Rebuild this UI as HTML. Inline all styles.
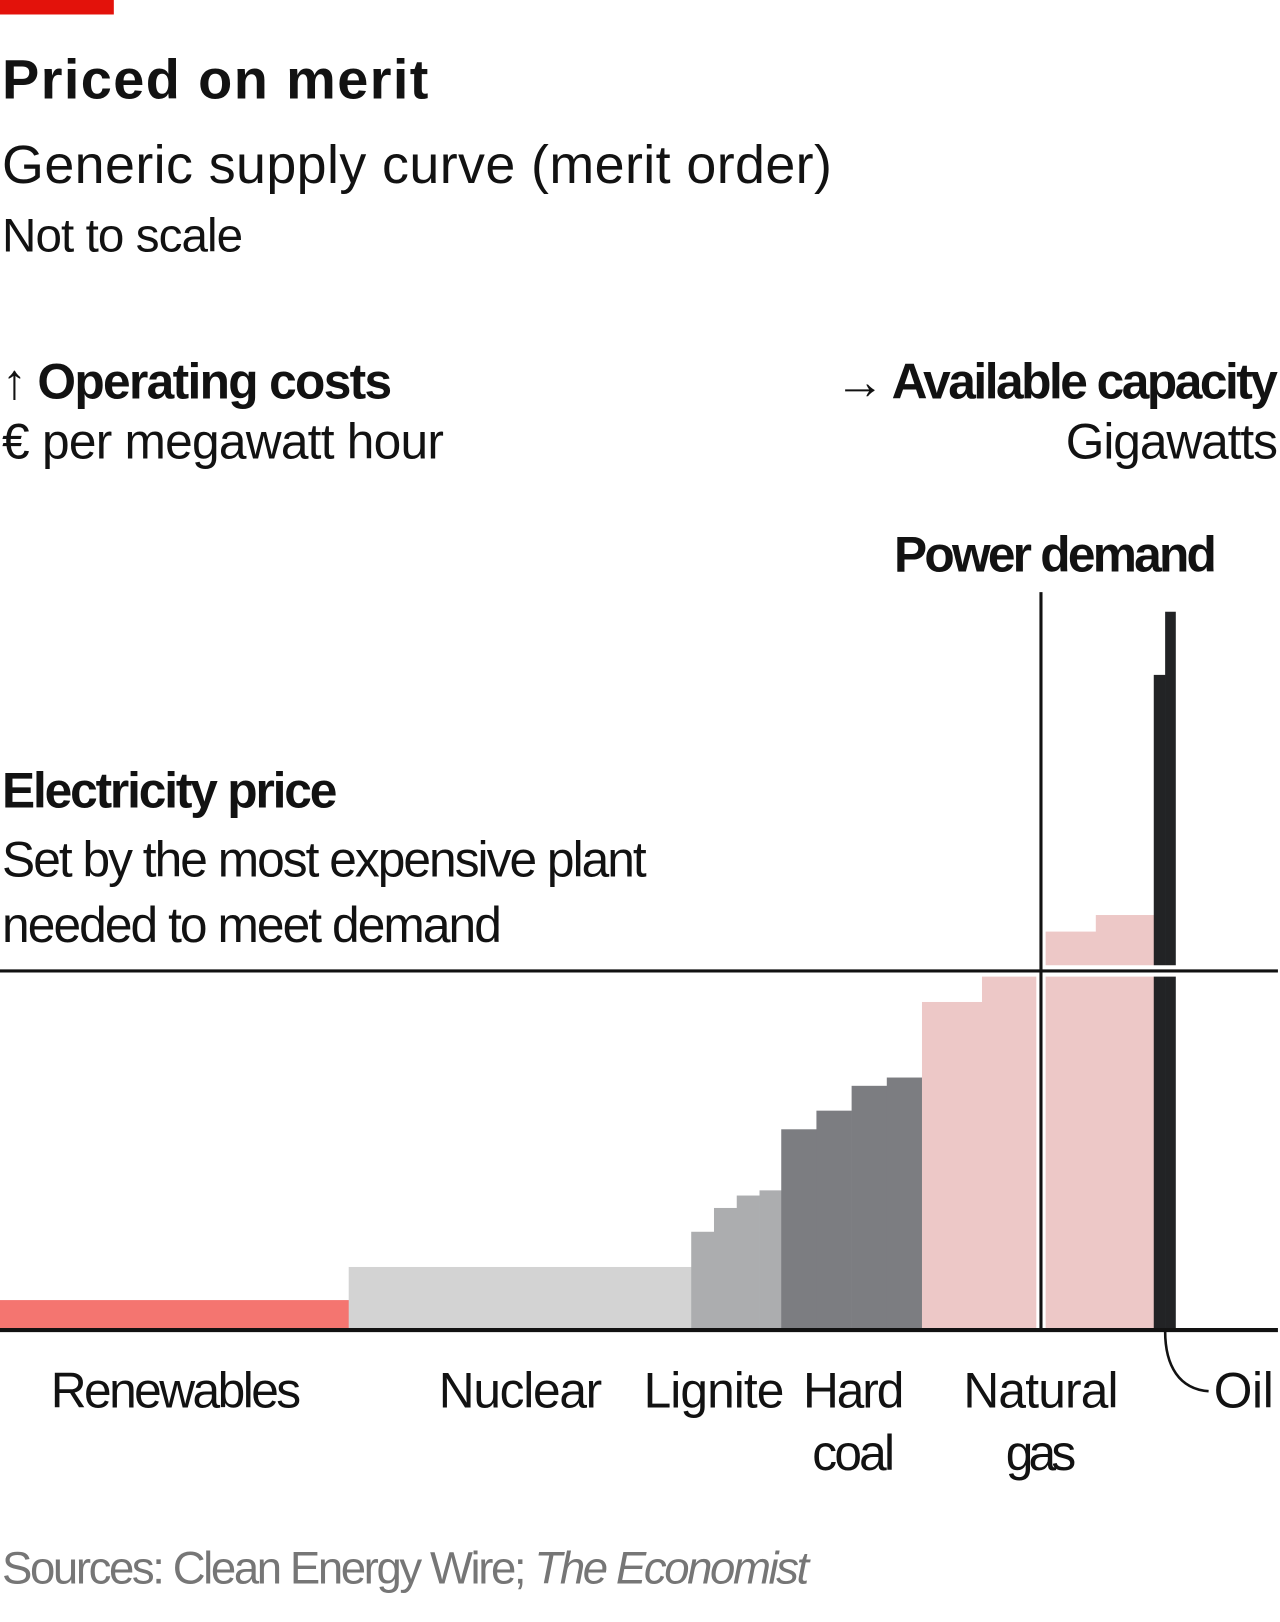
<!DOCTYPE html>
<html><head><meta charset="utf-8"><style>
html,body{margin:0;padding:0;background:#fff;}
svg{display:block;}
text{font-family:"Liberation Sans Narrow","Liberation Sans",sans-serif;fill:#121212;}
</style></head><body>
<svg width="1280" height="1622" viewBox="0 0 1237 1567" preserveAspectRatio="none">
<rect x="0" y="0" width="110" height="14" fill="#e3120b"/>
<text x="2" y="95" font-size="54" font-weight="bold" textLength="412">Priced on merit</text>
<text x="2" y="177" font-size="52" textLength="802">Generic supply curve (merit order)</text>
<text x="2" y="243" font-size="46" textLength="233">Not to scale</text>
<text x="2" y="385" font-size="48" font-weight="bold" textLength="377">↑ Operating costs</text>
<text x="2" y="443" font-size="48" textLength="427">€ per megawatt hour</text>
<text x="1235" y="385" font-size="48" font-weight="bold" text-anchor="end" textLength="428">→ Available capacity</text>
<text x="1235" y="443" font-size="48" text-anchor="end" textLength="205">Gigawatts</text>
<text x="1176" y="552" font-size="48" font-weight="bold" text-anchor="end" textLength="312">Power demand</text>
<text x="2" y="780" font-size="48" font-weight="bold" textLength="324">Electricity price</text>
<text x="2" y="847" font-size="48" textLength="623">Set by the most expensive plant</text>
<text x="2" y="910" font-size="48" textLength="483">needed to meet demand</text>
<g id="bars"></g>
<g id="lines"></g>
<g id="labels" font-size="48">
<text x="170" y="1360" text-anchor="middle" textLength="242">Renewables</text>
<text x="503" y="1360" text-anchor="middle" textLength="158">Nuclear</text>
<text x="690" y="1360" text-anchor="middle" textLength="136">Lignite</text>
<text x="825" y="1360" text-anchor="middle" textLength="98">Hard</text>
<text x="825" y="1420" text-anchor="middle" textLength="80">coal</text>
<text x="1006" y="1360" text-anchor="middle" textLength="150">Natural</text>
<text x="1006" y="1420" text-anchor="middle" textLength="68">gas</text>
<text x="1173" y="1360" textLength="58">Oil</text>
</g>
<path d="M1126,1286 C1126,1320 1140,1342 1168,1344" fill="none" stroke="#121212" stroke-width="2.5"/>
<text x="2" y="1530" font-size="44" style="fill:#767676" textLength="780">Sources: Clean Energy Wire; <tspan font-style="italic">The Economist</tspan></text>
</svg>
<script>
const categories=["Renewables","Nuclear","Lignite","Lignite","Lignite","Lignite","Hard coal","Hard coal","Hard coal","Hard coal","Natural gas","Natural gas","Natural gas","Natural gas","Oil","Oil"];
const capacities=[337,331,22,22,22,21,34,34,34,34,58,57,53,56,11,10];
const costs=[28,60,94,117,129,134,193,211,235,243,316,341,384,400,632,693];
const demand=1006;
const price=346;
const colors={"Renewables":"#f47570","Nuclear":"#d3d3d3","Lignite":"#acadaf","Hard coal":"#7c7d81","Natural gas":"#edc8c7","Oil":"#222325"};
const NS="http://www.w3.org/2000/svg";
const x0=0,yBase=1284;
function xs(v){return x0+v;}
function ys(v){return yBase-v;}
const bars=document.getElementById('bars');
let cum=0;
for(let i=0;i<costs.length;i++){
  const r=document.createElementNS(NS,'rect');
  r.setAttribute('x',xs(cum));
  r.setAttribute('width',capacities[i]+0.3);
  r.setAttribute('y',ys(costs[i]));
  r.setAttribute('height',costs[i]);
  r.setAttribute('fill',colors[categories[i]]);
  
  
  bars.appendChild(r);
  cum+=capacities[i];
}
const lines=document.getElementById('lines');
function line(x1,y1,x2,y2,c,w,name){
  const l=document.createElementNS(NS,'line');
  l.setAttribute('x1',x1);l.setAttribute('y1',y1);l.setAttribute('x2',x2);l.setAttribute('y2',y2);
  l.setAttribute('stroke',c);l.setAttribute('stroke-width',w);
  
  
  lines.appendChild(l);
}
line(xs(demand),572,xs(demand),yBase,'#fff',9,'demand-line-halo');
line(0,ys(price),1235,ys(price),'#fff',11,'price-line-halo');
line(xs(demand),572,xs(demand),yBase,'#121212',3,'demand-line');
line(0,ys(price),1235,ys(price),'#121212',3,'price-line');
line(0,yBase+1,1235,yBase+1,'#121212',4,'x-axis-baseline');
</script>
</body></html>
